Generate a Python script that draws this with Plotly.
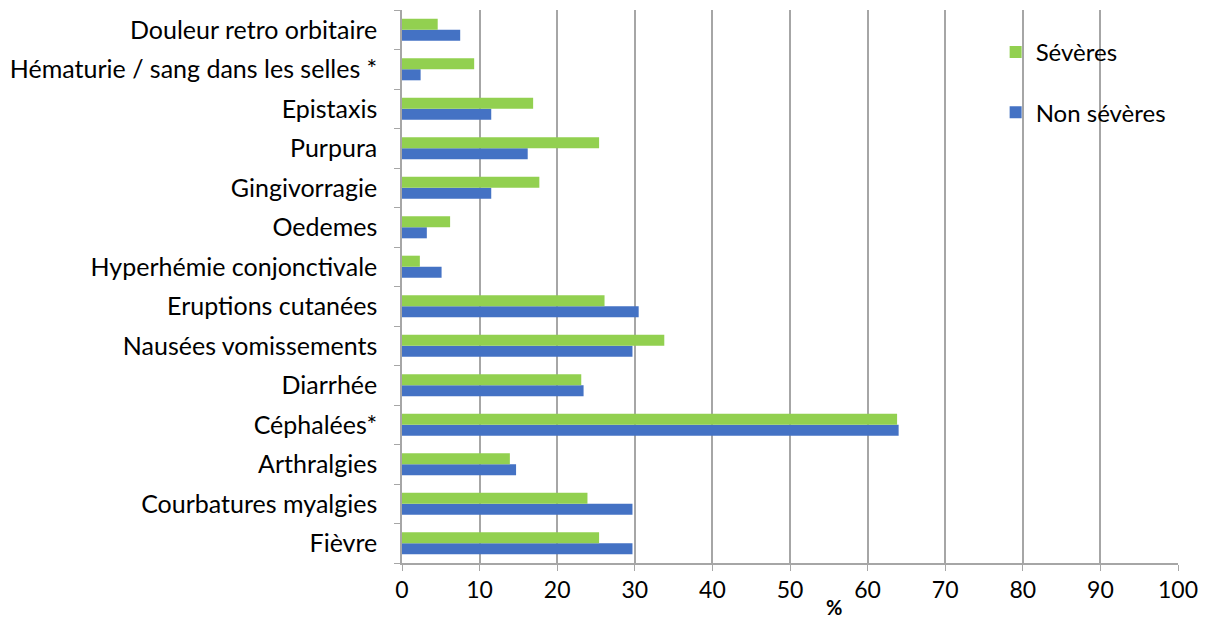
import plotly.graph_objects as go

categories = ["Fièvre", "Courbatures myalgies", "Arthralgies", "Céphalées*", "Diarrhée",
              "Nausées vomissements", "Eruptions cutanées", "Hyperhémie conjonctivale",
              "Oedemes", "Gingivorragie", "Purpura", "Epistaxis",
              "Hématurie / sang dans les selles *", "Douleur retro orbitaire"]
severes = [25.4, 23.9, 13.9, 63.8, 23.1, 33.8, 26.1, 2.3, 6.2, 17.7, 25.4, 16.9, 9.3, 4.6]
non_severes = [29.7, 29.7, 14.7, 64.0, 23.4, 29.7, 30.5, 5.1, 3.2, 11.5, 16.2, 11.5, 2.4, 7.5]
x_ticks = list(range(0, 101, 10))

FONT = "Lato, Carlito, Calibri, sans-serif"

fig = go.Figure()
fig.add_trace(go.Bar(y=categories, x=non_severes, orientation="h", name="Non sévères",
                     marker=dict(color="#4472C4", line=dict(width=0)), legendgroup="b",
                     legendrank=2))
fig.add_trace(go.Bar(y=categories, x=severes, orientation="h", name="Sévères",
                     marker=dict(color="#92D050", line=dict(width=0)), legendgroup="a",
                     legendrank=1))

fig.update_layout(
    width=1202, height=610,
    margin=dict(l=392, r=32, t=2, b=55),
    paper_bgcolor="white", plot_bgcolor="white",
    barmode="group", bargap=0.44, bargroupgap=0,
    font=dict(family=FONT, size=23, color="black"),
    legend=dict(x=0.765, y=0.964, xanchor="left", yanchor="top",
                traceorder="grouped", tracegroupgap=26,
                font=dict(size=24), bgcolor="rgba(0,0,0,0)", itemwidth=30),
    showlegend=True,
)
fig.update_xaxes(range=[0, 100], tickvals=x_ticks, showgrid=True, gridcolor="#A6A6A6",
                 gridwidth=1.5, showline=True, linecolor="#A6A6A6", linewidth=1.5,
                 ticks="outside", ticklen=6, tickcolor="#A6A6A6", zeroline=False,
                 tickfont=dict(size=23))
fig.update_yaxes(type="category", categoryorder="array", categoryarray=categories,
                 showline=True, linecolor="#A6A6A6", linewidth=1.5,
                 ticks="outside", ticklen=6, tickcolor="#A6A6A6", tickson="boundaries",
                 showgrid=False, ticklabelstandoff=18, tickfont=dict(size=25))
fig.add_annotation(text="<b>%</b>", xref="paper", yref="paper", x=0.5566, y=-0.0796,
                   xanchor="center", yanchor="middle", showarrow=False,
                   font=dict(size=20, family=FONT))

fig.write_html("out.html")
